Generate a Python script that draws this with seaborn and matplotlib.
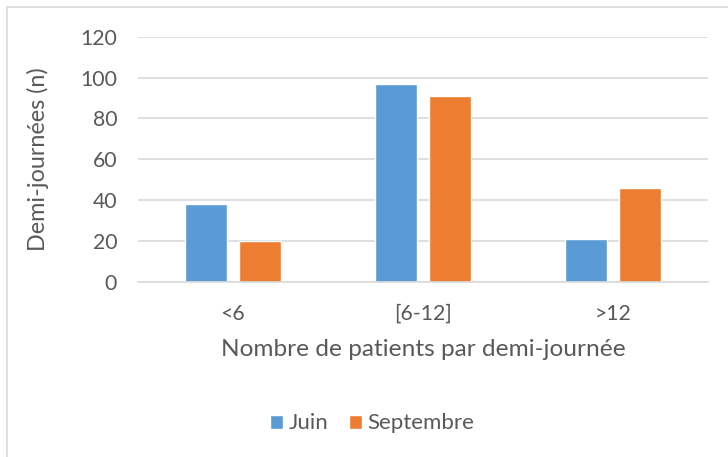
import matplotlib
matplotlib.use("Agg")
import matplotlib.pyplot as plt
import seaborn as sns
import pandas as pd
from matplotlib.lines import Line2D

categories = ["<6", "[6-12]", ">12"]
juin = [38, 97, 21]
septembre = [20, 91, 46]
series_names = ["Juin", "Septembre"]
colors = ["#5b9bd5", "#ed7d31"]
text_color = "#595959"

df = pd.DataFrame({
    "cat": categories * 2,
    "val": juin + septembre,
    "serie": [series_names[0]] * 3 + [series_names[1]] * 3,
})

sns.set_theme(style="white")
plt.rcParams["font.family"] = ["Lato", "DejaVu Sans"]

fig = plt.figure(figsize=(7.28, 4.57), dpi=100)
# plot area in pixels: x 138..708, y 36.7..281.5
ax = fig.add_axes([138 / 728, 1 - 281.5 / 457, (708 - 138) / 728, (281.5 - 36.7) / 457])

sns.barplot(data=df, x="cat", y="val", hue="serie", palette=colors,
            width=0.568, gap=0.22, saturation=1, ax=ax, legend=True)

ax.set_ylim(0, 120)
ax.set_xlim(-0.5, 2.5)
ax.set_yticks(range(0, 121, 20))
ax.yaxis.grid(True, color="#d9d9d9", linewidth=1.2)
ax.set_axisbelow(True)
for s in ["top", "right", "left"]:
    ax.spines[s].set_visible(False)
ax.spines["bottom"].set_color("#d9d9d9")
ax.spines["bottom"].set_linewidth(1.2)
ax.tick_params(axis="both", length=0, labelsize=15.3, labelcolor=text_color)
ax.tick_params(axis="x", pad=16)
ax.tick_params(axis="y", pad=15)

ax.set_xlabel("Nombre de patients par demi-journée", fontsize=17.6, color=text_color)
ax.xaxis.set_label_coords(0.5, -0.235)
ax.set_ylabel("Demi-journées (n)", fontsize=16.8, color=text_color)
ax.yaxis.set_label_coords(-0.156, 0.5)

leg = ax.legend(loc="center", bbox_to_anchor=(0.411, -0.58), ncol=2, frameon=False,
                fontsize=16, handlelength=0.6, handleheight=0.6, handletextpad=0.25,
                columnspacing=0.9, labelcolor=text_color)

# chart border (left and top visible)
fig.add_artist(Line2D([7 / 728, 7 / 728], [0, 1 - 7 / 457], color="#d9d9d9", linewidth=1.2))
fig.add_artist(Line2D([7 / 728, 1], [1 - 7 / 457, 1 - 7 / 457], color="#d9d9d9", linewidth=1.2))

fig.savefig("out.png", dpi=100)
